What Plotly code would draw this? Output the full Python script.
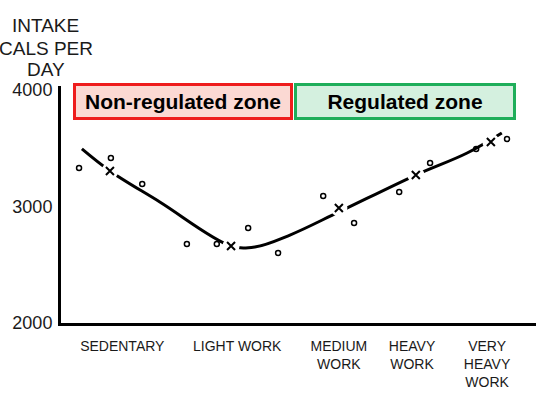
import plotly.graph_objects as go

# Activity-level axis positions (arbitrary units 0..10)
category_pos = [1.29, 3.71, 5.85, 7.39, 8.97]
category_labels = ["SEDENTARY", "LIGHT WORK", "MEDIUM<br>WORK", "HEAVY<br>WORK", "VERY<br>HEAVY<br>WORK"]

# Group means (x marks)
mean_x = [1.03, 3.58, 5.85, 7.47, 9.05]
mean_y = [3305, 2661, 2987, 3270, 3554]

# Individual observations (open circles)
obs_x = [0.38, 1.05, 1.71, 2.65, 3.28, 3.94, 4.57, 5.52, 6.17, 7.12, 7.77, 8.74, 9.39]
obs_y = [3330, 3416, 3193, 2678, 2678, 2815, 2601, 3090, 2858, 3124, 3373, 3494, 3579]

# Fitted curve
fit_x = [0.44, 1.03, 2.08, 3.58, 4.08, 4.82, 5.85, 7.47, 8.55, 9.28]
fit_y = [3494, 3305, 3039, 2661, 2652, 2755, 2953, 3270, 3459, 3631]

y_ticks = [2000, 3000, 4000]
title_lines = ["INTAKE", "CALS PER", "DAY"]
title_y = [1.257, 1.160, 1.068]

font_family = "Liberation Sans, Arial, Helvetica, sans-serif"

fig = go.Figure()
fig.add_trace(go.Scatter(x=fit_x, y=fit_y, mode="lines",
                         line=dict(color="black", width=3, shape="spline", smoothing=1.0),
                         hoverinfo="skip", showlegend=False))
# white gaps in the curve around the mean marks
fig.add_trace(go.Scatter(x=mean_x, y=mean_y, mode="markers",
                         marker=dict(symbol="circle", size=17, color="white", line=dict(width=0)),
                         hoverinfo="skip", showlegend=False))
fig.add_trace(go.Scatter(x=mean_x, y=mean_y, mode="markers",
                         marker=dict(symbol="x-thin-open", size=8, color="black", line=dict(width=2, color="black")),
                         showlegend=False))
fig.add_trace(go.Scatter(x=obs_x, y=obs_y, mode="markers",
                         marker=dict(symbol="circle-open", size=5, color="black", line=dict(width=1.5, color="black")),
                         showlegend=False))

annotations = [
    dict(text=t, xref="paper", yref="paper", x=-0.032, y=yy,
         xanchor="center", yanchor="middle", showarrow=False,
         font=dict(size=19, color="#1a1a1a"))
    for t, yy in zip(title_lines, title_y)
]
annotations += [
    dict(text="<b>Non-regulated zone</b>", xref="x", yref="paper", x=2.57, y=0.9325,
         xanchor="center", yanchor="middle", showarrow=False,
         width=214, height=31, borderpad=0, borderwidth=3,
         bordercolor="#ee1c1c", bgcolor="#fbd9d3", font=dict(size=21, color="black")),
    dict(text="<b>Regulated zone</b>", xref="x", yref="paper", x=7.24, y=0.9325,
         xanchor="center", yanchor="middle", showarrow=False,
         width=216, height=31, borderpad=0, borderwidth=3,
         bordercolor="#1fae5a", bgcolor="#d4f0df", font=dict(size=21, color="black")),
]

fig.update_layout(
    width=536, height=405,
    margin=dict(l=61, r=0, t=86, b=82),
    paper_bgcolor="white", plot_bgcolor="white",
    font=dict(family=font_family, color="#1a1a1a"),
    xaxis=dict(range=[0, 10], showgrid=False, zeroline=False, showline=True, linecolor="black", linewidth=3,
               tickmode="array", tickvals=category_pos, ticktext=category_labels, ticks="",
               tickfont=dict(size=14, color="#1a1a1a"), ticklabelstandoff=8),
    yaxis=dict(range=[2000, 4034], showgrid=False, zeroline=False, showline=True, linecolor="black", linewidth=3,
               tickmode="array", tickvals=y_ticks, ticktext=[str(v) for v in y_ticks], ticks="",
               tickfont=dict(size=18, color="#1a1a1a"), ticklabelstandoff=2),
    annotations=annotations,
)

fig.write_html("out.html")
